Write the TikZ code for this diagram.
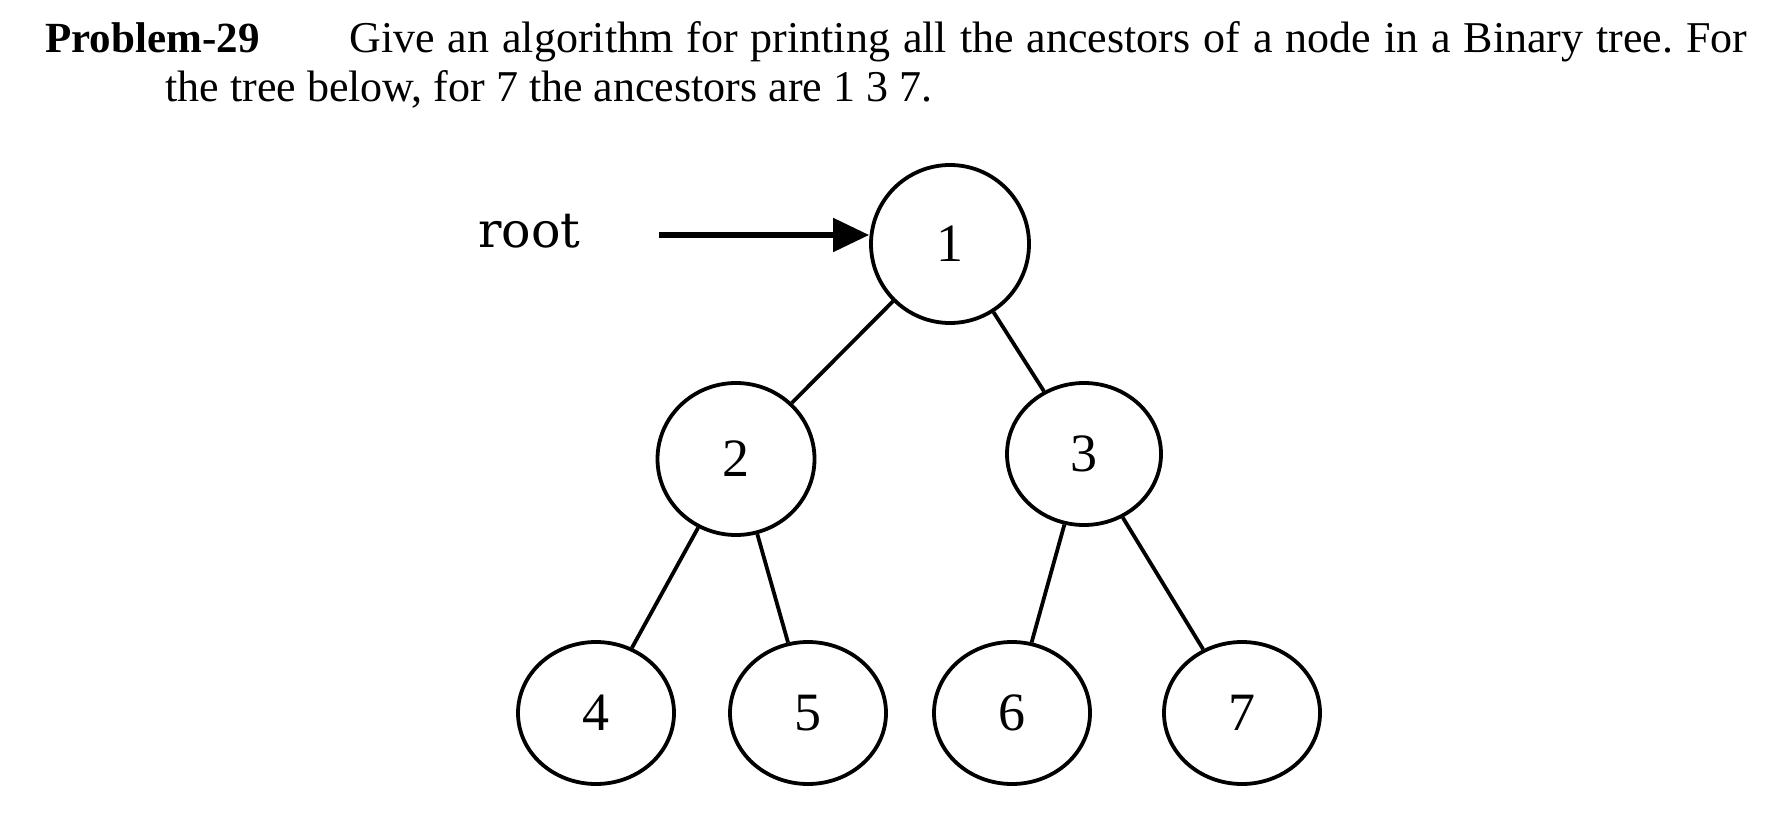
\documentclass[tikz,border=0pt]{standalone}
\usepackage{fontspec}
\setmainfont{Liberation Serif}
\newfontfamily\labelfont{DejaVu Serif}
\usetikzlibrary{arrows.meta,shapes.geometric,positioning}
\definecolor{ink}{HTML}{000000}
\frenchspacing
\tikzset{
  >={Triangle[length=18pt,width=16.5pt]},
  prose/.style={anchor=base west, inner sep=0pt, text=ink,
    font=\fontsize{22}{25}\selectfont},
  treenode/.style={draw=ink, ellipse, line width=1.9pt, inner sep=0pt,
    minimum width=78pt, minimum height=71pt,
    font=\fontsize{27}{30}\selectfont},
  edge/.style={draw=ink, line width=1.9pt},
  pointer/.style={draw=ink, line width=2.6pt, ->},
  tag/.style={anchor=base west, inner sep=0pt,
    font=\labelfont\fontsize{24.5}{28}\selectfont}
}
\begin{document}
\begin{tikzpicture}[x=0.5pt,y=0.5pt]
  \useasboundingbox (0,0) rectangle (1775,-834);

  % -------------------------------------------------------------------
  % Problem statement.
  \node[prose, font=\fontsize{21.5}{25}\selectfont\bfseries] (probTitle) at (45,-53)
    {Problem-29};
  \node[prose] (probLineA) at (349,-53)
    {\makebox[699pt][s]{Give an algorithm for printing all the ancestors of a node in a Binary tree. For}};
  \node[prose] (probLineB) at (165,-102)
    {the tree below, for 7 the ancestors are 1 3 7.};

  % -------------------------------------------------------------------
  % The binary tree.
  \node[treenode, minimum width=79pt, minimum height=79pt] (n1) at (950,-244) {1};
  \node[treenode, minimum width=78.5pt, minimum height=76pt] (n2) at (736,-459) {2};
  \node[treenode, minimum width=77pt] (n3) at (1084,-454) {3};
  \node[treenode] (n4) at (596,-713) {4};
  \node[treenode] (n5) at (808,-713) {5};
  \node[treenode] (n6) at (1012,-713) {6};
  \node[treenode] (n7) at (1242,-713) {7};

  \draw[edge] (n1) -- (n2);
  \draw[edge] (n1) -- (n3);
  \draw[edge] (n2) -- (n4);
  \draw[edge] (n2) -- (n5);
  \draw[edge] (n3) -- (n6);
  \draw[edge] (n3) -- (n7);

  % -------------------------------------------------------------------
  % Root pointer.
  \node[tag] (rootTag) at (478,-248) {root};
  \coordinate (rootTail) at (659,-235);
  \draw[pointer] (rootTail) -- (rootTail -| n1.west);
\end{tikzpicture}
\end{document}
